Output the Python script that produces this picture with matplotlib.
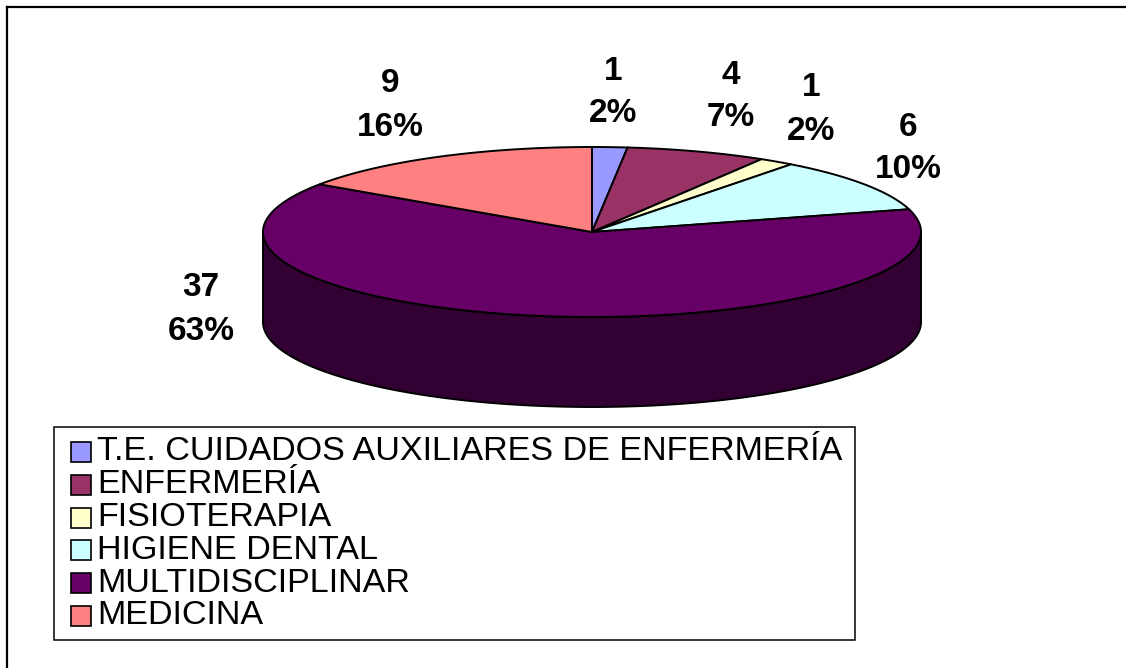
import numpy as np
import matplotlib.pyplot as plt
from matplotlib.patches import Polygon, Rectangle

plt.rcParams['font.family'] = ['Liberation Sans', 'DejaVu Sans']

categories = ["T.E. CUIDADOS AUXILIARES DE ENFERMERÍA", "ENFERMERÍA", "FISIOTERAPIA",
              "HIGIENE DENTAL", "MULTIDISCIPLINAR", "MEDICINA"]
values = [1, 4, 1, 6, 37, 9]
pct_labels = ["2%", "7%", "2%", "10%", "63%", "16%"]
colors = ["#9999FF", "#993366", "#FFFFCC", "#CCFFFF", "#660066", "#FF8080"]
side_colors = ["#4d4d80", "#4d1a33", "#808066", "#668080", "#330033", "#804040"]

# label anchor (x, y of first line) in pixels
label_pos = [(613, 71), (731, 75), (811, 88), (908, 127), (201, 288), (390, 84)]

W, H = 1126, 668
fig = plt.figure(figsize=(W / 100, H / 100), dpi=100)
ax = fig.add_axes([0, 0, 1, 1])
ax.set_xlim(0, W)
ax.set_ylim(H, 0)
ax.axis('off')

# outer frame
ax.plot([7, 7], [H + 5, 7], color='black', lw=1.6, clip_on=False)
ax.plot([7, W + 5], [7, 7], color='black', lw=1.6, clip_on=False)

cx, cy, a, b, depth = 592, 232, 329, 85, 90


def pt(phi, dy=0.0):
    r = np.radians(phi)
    return cx + a * np.sin(r), cy - b * np.cos(r) + dy


total = sum(values)
bounds = np.concatenate([[0], np.cumsum(values) / total * 360])

# side walls (front half only, 90..270 deg clockwise from top)
for i in range(len(values)):
    s, e = max(bounds[i], 90), min(bounds[i + 1], 270)
    if e <= s:
        continue
    phis = np.linspace(s, e, 200)
    xt, yt = pt(phis)
    xb, yb = pt(phis[::-1], depth)
    poly = np.column_stack([np.concatenate([xt, xb]), np.concatenate([yt, yb])])
    ax.add_patch(Polygon(poly, closed=True, fc=side_colors[i], ec='black', lw=1.4))

# top faces
for i in range(len(values)):
    phis = np.linspace(bounds[i], bounds[i + 1], 300)
    xt, yt = pt(phis)
    poly = np.column_stack([np.concatenate([[cx], xt]), np.concatenate([[cy], yt])])
    ax.add_patch(Polygon(poly, closed=True, fc=colors[i], ec='black', lw=1.4, joinstyle='miter'))

# data labels
for i, (lx, ly) in enumerate(label_pos):
    ax.text(lx, ly, str(values[i]), ha='center', va='center', fontsize=24, fontweight='bold')
    ax.text(lx, ly + 43, pct_labels[i], ha='center', va='center', fontsize=24, fontweight='bold')

# legend
ax.add_patch(Rectangle((54, 427), 801, 213, fc='white', ec='black', lw=1.1))
for i, name in enumerate(categories):
    y = 452 + i * 32.8
    ax.add_patch(Rectangle((71, y - 10), 20, 20, fc=colors[i], ec='black', lw=1.2))
    ax.text(97, y, name, ha='left', va='center', fontsize=24.6)

fig.savefig("out.png", dpi=100)
